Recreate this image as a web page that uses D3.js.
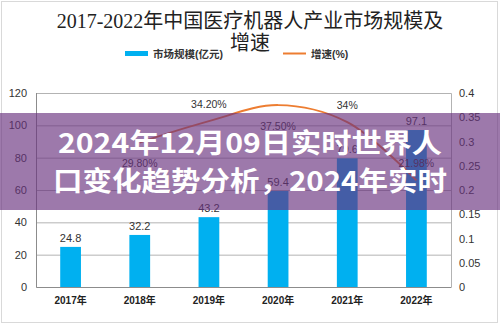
<!DOCTYPE html>
<html><head><meta charset="utf-8">
<script src="https://cdn.jsdelivr.net/npm/d3@7"></script>
<style>
html,body{margin:0;padding:0;background:#fff;}
svg{display:block;}
</style></head>
<body>
<script>
const years = ["2017年","2018年","2019年","2020年","2021年","2022年"];
const marketSize = [24.8, 32.2, 43.2, 59.4, 79.6, 97.1];
const growthYears = ["2018年","2019年","2020年","2021年","2022年"];
const growthRate = [0.298, 0.342, 0.375, 0.34, 0.2198];
const growthLabels = ["29.80%","34.20%","37.50%","34%","21.98%"];
const leftTicks = [0,20,40,60,80,100,120];
const rightTicks = [0,0.05,0.1,0.15,0.2,0.25,0.3,0.35,0.4];
const titleLines = ["2017-2022年中国医疗机器人产业市场规模及","增速"];
const legendLabels = ["市场规模(亿元)","增速(%)"];
const overlayLines = ["2024年12月09日实时世界人","口变化趋势分析，2024年实时"];
// label placement (above/below point) for the growth labels
const growthLabelSide = [1,-1,1,-1,-1];

const W=500,H=325;
const svg=d3.select("body").append("svg").attr("width",W).attr("height",H);
const sans="'Liberation Sans','Noto Sans CJK SC',sans-serif";
const serif="'Liberation Serif','DejaVu Serif','Noto Sans CJK SC',serif";

svg.append("rect").attr("x",1.5).attr("y",1.5).attr("width",496).attr("height",321)
  .attr("fill","#fff").attr("stroke","#d9d9d9");

const m={l:36,r:451,t:93,b:287};
const x=d3.scaleBand().domain(years).range([m.l,m.r]).paddingInner(0.7).paddingOuter(0.35);
const y=d3.scaleLinear().domain([0,120]).range([m.b,m.t]);
const y2=d3.scaleLinear().domain([0,0.4]).range([m.b,m.t]);

// title
svg.selectAll("text.title").data(titleLines).join("text").attr("class","title")
  .attr("x",250).attr("y",(d,i)=>28+i*22).attr("text-anchor","middle")
  .attr("font-family",serif).attr("font-size",20).attr("fill","#222").text(d=>d);

// legend
const lg=svg.append("g");
lg.append("rect").attr("x",125).attr("y",51).attr("width",23).attr("height",5).attr("fill","#00b0f0");
lg.append("text").attr("x",153).attr("y",57.5).attr("font-family",sans).attr("font-weight","bold")
  .attr("font-size",10.5).attr("fill","#333").text(legendLabels[0]);
lg.append("line").attr("x1",283).attr("x2",306).attr("y1",53.5).attr("y2",53.5)
  .attr("stroke","#ed7d31").attr("stroke-width",2);
lg.append("text").attr("x",311).attr("y",57.5).attr("font-family",sans).attr("font-weight","bold")
  .attr("font-size",10.5).attr("fill","#333").text(legendLabels[1]);

// grid
const gy=svg.append("g").attr("transform",`translate(${m.l},0)`)
  .call(d3.axisLeft(y).tickValues(leftTicks).tickSize(-(m.r-m.l)).tickFormat(d3.format("d")).tickPadding(9));
gy.select(".domain").remove();
gy.selectAll(".tick line").attr("stroke","#b3b3b3");
gy.selectAll(".tick text").attr("font-family",sans).attr("font-size",11).attr("fill","#333");
// plot border (top, right)
svg.append("path").attr("d",`M${m.l},${m.t+0.5}H${m.r+0.5}V${m.b}`).attr("fill","none").attr("stroke","#b3b3b3");
// left axis line
svg.append("line").attr("x1",m.l+0.5).attr("x2",m.l+0.5).attr("y1",m.t).attr("y2",m.b).attr("stroke","#8c8c8c");

const gr=svg.append("g").attr("transform",`translate(${m.r},0)`)
  .call(d3.axisRight(y2).tickValues(rightTicks).tickSize(0).tickFormat(d=>String(d)).tickPadding(8));
gr.select(".domain").remove();
gr.selectAll(".tick text").attr("font-family",sans).attr("font-size",11).attr("fill","#333");

// x axis
const gx=svg.append("g").attr("transform",`translate(0,${m.b})`)
  .call(d3.axisBottom(x).tickSize(0).tickPadding(10));
gx.select(".domain").attr("stroke","#8c8c8c");
gx.selectAll(".tick text").attr("font-family",sans).attr("font-weight","bold").attr("font-size",10).attr("fill","#222");

// bars
svg.selectAll("rect.bar").data(marketSize).join("rect").attr("class","bar")
  .attr("x",(d,i)=>x(years[i])).attr("width",x.bandwidth())
  .attr("y",d=>y(d)).attr("height",d=>m.b-y(d)).attr("fill","#00b0f0");
svg.selectAll("text.bl").data(marketSize).join("text").attr("class","bl")
  .attr("x",(d,i)=>x(years[i])+x.bandwidth()/2).attr("y",d=>y(d)-5)
  .attr("text-anchor","middle").attr("font-family",sans).attr("font-size",11).attr("fill","#333")
  .text(d=>d3.format(".1f")(d));

// line
const cx=(i)=>x(growthYears[i])+x.bandwidth()/2;
const line=d3.line().x((d,i)=>cx(i)).y(d=>y2(d)).curve(d3.curveCatmullRom.alpha(0.5));
svg.append("path").datum(growthRate).attr("d",line).attr("fill","none")
  .attr("stroke","#ed7d31").attr("stroke-width",2);
svg.selectAll("text.gl").data(growthRate).join("text").attr("class","gl")
  .attr("x",(d,i)=>cx(i)).attr("y",(d,i)=>growthLabelSide[i]>0? y2(d)+25 : y2(d)-13)
  .attr("text-anchor","middle").attr("font-family",sans).attr("font-size",10.5).attr("fill","#333")
  .text((d,i)=>growthLabels[i]);

// overlay band
svg.append("rect").attr("x",0).attr("y",113).attr("width",W).attr("height",97)
  .attr("fill","rgba(104,49,126,0.65)");
const ovX=[58,53],ovW=[384,394],ovY=[153,191];
svg.selectAll("text.ov").data(overlayLines).join("text").attr("class","ov")
  .attr("x",(d,i)=>ovX[i]).attr("y",(d,i)=>ovY[i])
  .attr("textLength",(d,i)=>ovW[i]).attr("lengthAdjust","spacingAndGlyphs")
  .attr("font-family","'Noto Sans CJK SC',sans-serif").attr("font-weight","bold")
  .attr("font-size",27).attr("fill","#fff").text(d=>d);
</script>
</body></html>
